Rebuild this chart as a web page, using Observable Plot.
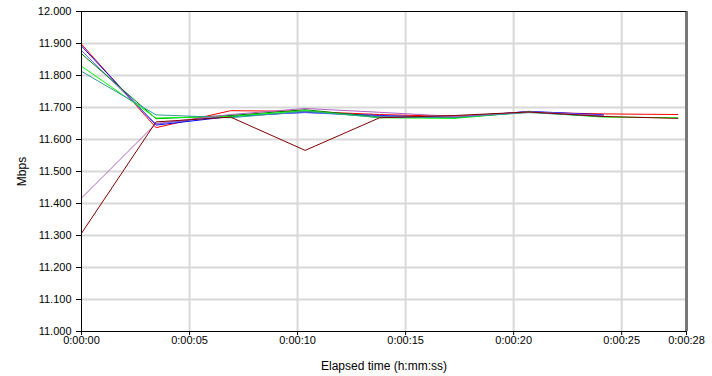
<!DOCTYPE html>
<html>
<head>
<meta charset="utf-8">
<script src="https://cdn.jsdelivr.net/npm/d3@7"></script>
<script src="https://cdn.jsdelivr.net/npm/@observablehq/plot@0.6"></script>
<style>
  html, body { margin: 0; padding: 0; background: #fff; }
  #chart svg { display: block; }
</style>
</head>
<body>
<div id="chart"></div>
<script>
// Elapsed time of each sample (seconds)
const times = [0, 3.45, 6.9, 10.35, 13.8, 17.25, 20.7, 24.15, 27.6];

// Series values (Mbps)
const seriesNames = ["Red", "Blue", "Slate", "DarkGreen", "Green", "Teal", "Purple", "DarkRed"];
const seriesColors = ["#ff0000", "#0000ff", "#6060ff", "#008000", "#00ff00", "#2f9a9a", "#b060c0", "#800000"];
const redValues       = [11.898, 11.637, 11.690, 11.688, 11.678, 11.672, 11.685, 11.680, 11.678];
const blueValues      = [11.892, 11.645, 11.672, 11.685, 11.675, 11.668, 11.688, 11.677];
const slateValues     = [11.878, 11.648, 11.675, 11.684, 11.673, 11.670, 11.687, 11.675];
const darkGreenValues = [11.868, 11.665, 11.675, 11.693, 11.670, 11.668, 11.686, 11.672];
const greenValues     = [11.829, 11.667, 11.672, 11.690, 11.668, 11.666, 11.686, 11.670, 11.668];
const tealValues      = [11.813, 11.677, 11.668, 11.688, 11.669, 11.669, 11.684, 11.672];
const purpleValues    = [11.417, 11.650, 11.678, 11.697, 11.685, 11.672, 11.686, 11.675];
const darkRedValues   = [11.307, 11.655, 11.670, 11.566, 11.668, 11.675, 11.686, 11.672, 11.666];
const allValues = [redValues, blueValues, slateValues, darkGreenValues, greenValues, tealValues, purpleValues, darkRedValues];

// Axis ticks
const xTicks = [0, 5, 10, 15, 20, 25, 28];
const xGrid = [5, 10, 15, 20, 25];
const yTicks = [11.0, 11.1, 11.2, 11.3, 11.4, 11.5, 11.6, 11.7, 11.8, 11.9, 12.0];

const rows = [];
allValues.forEach((vals, si) => {
  vals.forEach((v, i) => rows.push({series: seriesNames[si], color: seriesColors[si], t: times[i], v}));
});

const fmtTime = s => "0:00:" + String(s).padStart(2, "0");

const chart = Plot.plot({
  width: 712,
  height: 376,
  marginLeft: 81,
  marginRight: 26,
  marginTop: 11,
  marginBottom: 45,
  style: {fontFamily: "Liberation Sans, Arial, sans-serif", fontSize: "11px", color: "#000", background: "#fff"},
  x: {domain: [0, 28]},
  y: {domain: [11, 12]},
  marks: [
    Plot.gridX(xGrid, {stroke: "#d8d8d8", strokeOpacity: 1, strokeWidth: 2}),
    Plot.gridY(yTicks.slice(1, -1), {stroke: "#d8d8d8", strokeOpacity: 1, strokeWidth: 2}),
    Plot.line(rows, {x: "t", y: "v", z: "series", stroke: "color", strokeWidth: 1}),
    Plot.ruleX([28], {stroke: "#777", strokeWidth: 3}),
    Plot.ruleY([12], {stroke: "#000", strokeWidth: 1}),
    Plot.ruleX([0], {stroke: "#000", strokeWidth: 1}),
    Plot.ruleY([11], {stroke: "#000", strokeWidth: 1}),
    Plot.axisX(xTicks, {tickFormat: fmtTime, tickSize: 4, tickPadding: 1, label: null, fontSize: 11}),
    Plot.axisX({label: "Elapsed time (h:mm:ss)", ticks: [], tickSize: 0, labelAnchor: "center", labelArrow: "none", labelOffset: 38, fontSize: 12}),
    Plot.axisY(yTicks, {tickFormat: d3.format(".3f"), tickSize: 5, tickPadding: 5, label: null, fontSize: 11}),
    Plot.axisY({label: "Mbps", ticks: [], tickSize: 0, labelAnchor: "center", labelArrow: "none", labelOffset: 64, fontSize: 12})
  ]
});
document.getElementById("chart").appendChild(chart);
</script>
</body>
</html>
